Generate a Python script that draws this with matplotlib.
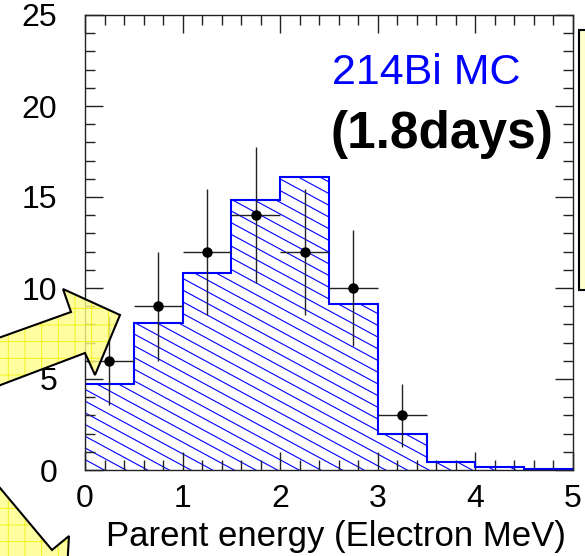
#!/usr/bin/env python3
"""
214Bi MC spectrum vs data points (slide crop recreation)
"""

import numpy as np
import matplotlib
matplotlib.use('Agg')
import matplotlib.pyplot as plt
import matplotlib.patches as patches
from matplotlib.ticker import MultipleLocator

plt.rcParams['font.family'] = ['Liberation Sans', 'DejaVu Sans']
plt.rcParams['hatch.linewidth'] = 0.7

# histogram (MC) and data
bin_edges = [0, 0.5, 1.0, 1.5, 2.0, 2.5, 3.0, 3.5, 4.0, 4.5, 5.0]
mc_counts = [4.7, 8.05, 10.8, 14.85, 16.1, 9.1, 2.0, 0.42, 0.18, 0.05]
data_x = [0.25, 0.75, 1.25, 1.75, 2.25, 2.75, 3.25]
data_y = [6, 9, 12, 14, 12, 10, 3]

W, H = 585, 556


def px(x, y):
    # pixel coordinates of the slide -> figure fraction
    return (x / W, 1 - y / H)


fig = plt.figure(figsize=(W / 100, H / 100), dpi=100)
ax = fig.add_axes([85 / W, 1 - 470 / H, (573 - 85) / W, (470 - 15) / H])
ax.set_xlim(0, 5)
ax.set_ylim(0, 25)

hist = ax.stairs(mc_counts, bin_edges, baseline=0, fill=True,
                 facecolor='none', edgecolor='#0000ff', linewidth=1.5, zorder=2)

# shallow hatch lines like the ROOT fill style
for c in np.arange(-2, 40, 0.643):
    ln, = ax.plot([0, 5], [c, c - 2.9 * 5], color='#0000ff', lw=0.8, zorder=1)
    ln.set_clip_path(hist)

ax.errorbar(data_x, data_y, xerr=0.25, yerr=np.sqrt(data_y), fmt='o',
            color='black', ecolor='#222222', elinewidth=1, markersize=6.5,
            capsize=0, zorder=3)

ax.xaxis.set_major_locator(MultipleLocator(1))
ax.xaxis.set_minor_locator(MultipleLocator(0.2))
ax.yaxis.set_major_locator(MultipleLocator(5))
ax.yaxis.set_minor_locator(MultipleLocator(1))
ax.tick_params(which='both', direction='in', top=True, right=True,
               color='#222222', width=1, labelsize=23)
ax.tick_params(which='major', length=13)
ax.tick_params(which='minor', length=7)
ax.tick_params(axis='y', pad=20)
ax.tick_params(axis='x', pad=10)
for spine in ax.spines.values():
    spine.set_linewidth(1)
    spine.set_color('#222222')

ax.set_xlabel('Parent energy (Electron MeV)', fontsize=25)
ax.xaxis.set_label_coords(0.515, -0.11)

fig.text(*px(426, 73), '214Bi MC', color='#0000ff', fontsize=31,
         ha='center', va='center')
fig.text(*px(442, 134), '(1.8days)', color='black', fontsize=37,
         fontweight='bold', ha='center', va='center')

# slide decorations: yellow box at the right, two arrows
box = patches.Rectangle(px(579, 290), 30 / W, 260 / H, transform=fig.transFigure,
                        facecolor='#ffffcc', edgecolor='black', linewidth=1.5,
                        clip_on=False)
fig.patches.append(box)

arrows = [
    [(-10, 341), (71, 312), (63, 289), (120, 315), (95, 375), (85, 353), (-10, 389)],
    [(-10, 476), (52, 550), (69, 536), (67, 570), (-10, 570)],
]
for pts in arrows:
    xy = [px(x, y) for x, y in pts]
    fill = patches.Polygon(xy, closed=True, transform=fig.transFigure,
                           facecolor='#ffff88', edgecolor='#eeee00', linewidth=0,
                           hatch='+', alpha=0.8, clip_on=False)
    edge = patches.Polygon(xy, closed=True, transform=fig.transFigure,
                           facecolor='none', edgecolor='black', linewidth=1.5,
                           clip_on=False)
    fig.patches.extend([fill, edge])

plt.savefig('out.png', dpi=100, facecolor='white')
plt.close()
